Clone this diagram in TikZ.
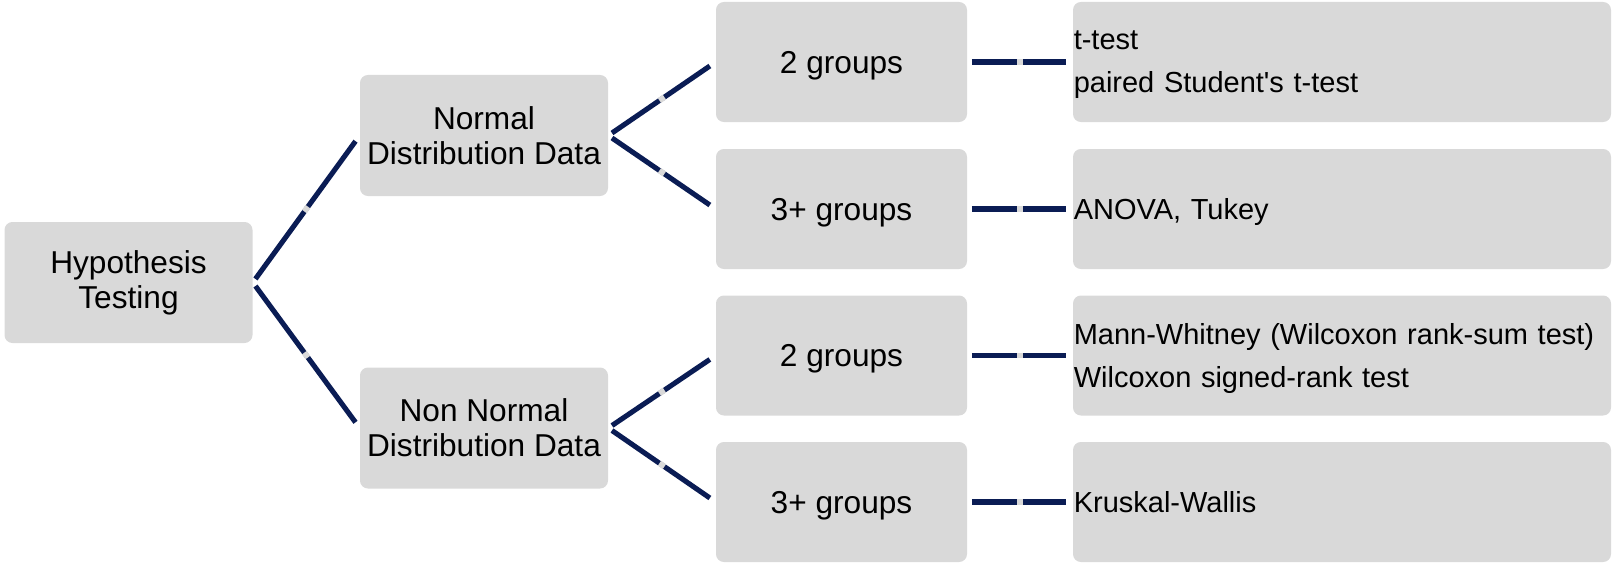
\documentclass[tikz,border=0pt]{standalone}
\usepackage{fontspec}
\setmainfont{Liberation Sans}
\usepackage{tikz}
\usetikzlibrary{decorations.markings}
\definecolor{TreeNavy}{RGB}{10,28,84}
\definecolor{BoxGray}{RGB}{217,217,217}

\begin{document}
\begin{tikzpicture}[
	box/.style={fill=BoxGray, rounded corners=4.5pt, inner sep=0pt, align=center,
		minimum width=4.96cm, minimum height=2.42cm, font=\fontsize{18}{20}\selectfont},
	groupbox/.style={box, minimum width=5.02cm, minimum height=2.4cm, text depth=0pt},
	testbox/.style={box, minimum width=10.76cm, text width=10.73cm, align=left,
		minimum height=2.4cm, text depth=#1, font=\fontsize{16.5}{24.4}\selectfont},
	testbox/.default=0pt,
	link/.style={draw=TreeNavy, line width=2.9pt, shorten <=2.5pt, shorten >=4pt,
		postaction={decorate}, decoration={markings, mark=at position 0.5 with
			{\draw[BoxGray, line width=3.3pt, shorten <=0pt, shorten >=0pt]
				(-1.7pt,0) -- (1.7pt,0);}}}]
	\useasboundingbox (0,0) rectangle (32.28,-11.26);

	% raiz y tipo de datos
	\node[box] (root) at (2.57,-5.65) {Hypothesis\\Testing};
	\node[box] (normal) at (9.68,-2.71) {Normal\\Distribution Data};
	\node[box] (nonnormal) at (9.68,-8.56) {Non Normal\\Distribution Data};

	% numero de grupos
	\node[groupbox] (g2n) at (16.83,-1.24) {2 groups};
	\node[groupbox] (g3n) at (16.83,-4.18) {3+ groups};
	\node[groupbox] (g2nn) at (16.83,-7.11) {2 groups};
	\node[groupbox] (g3nn) at (16.83,-10.04) {3+ groups};

	% pruebas
	\node[testbox=24.4pt] (tn2) at (26.84,-1.24) {t-test\\paired Student\textquotesingle s t-test};
	\node[testbox] (tn3) at (26.84,-4.18) {ANOVA, Tukey};
	\node[testbox=24.4pt] (tnn2) at (26.84,-7.11) {Mann-Whitney (Wilcoxon rank-sum test)\\Wilcoxon signed-rank test};
	\node[testbox] (tnn3) at (26.84,-10.04) {Kruskal-Wallis};

	% conexiones
	\foreach \a/\b in {root/normal, root/nonnormal, normal/g2n, normal/g3n,
		nonnormal/g2nn, nonnormal/g3nn, g2n/tn2, g3n/tn3, g2nn/tnn2, g3nn/tnn3}
		\draw[link] (\a.east) -- (\b.west);
\end{tikzpicture}
\end{document}
